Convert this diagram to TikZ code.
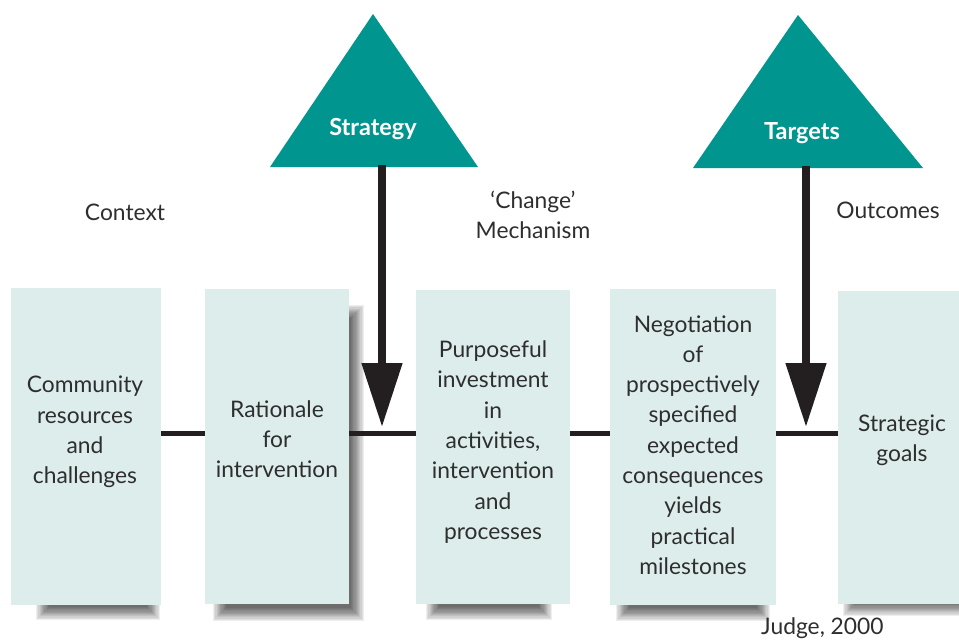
\documentclass[tikz,border=0pt]{standalone}
\usepackage{fontspec}
\setmainfont{Lato}
\usetikzlibrary{arrows.meta}

\definecolor{tealfill}{HTML}{00968F}
\definecolor{cardfill}{HTML}{DDEDEC}
\definecolor{ink}{HTML}{231F20}
\definecolor{txtgray}{HTML}{2E2E2E}

% soft drop shadow built from nested translucent rectangles
\newcommand\softshadow[4]{%
  \foreach \k in {0,...,11}{%
    \fill[black,opacity=0.065] ({#1+1.2*\k},{#2+1.2*\k}) rectangle ({#3-1.2*\k},{#4-1.2*\k});}}

\tikzset{
  card/.style={fill=cardfill, inner sep=0pt, outer sep=0pt, anchor=north west},
  cardtext/.style={align=center, text=txtgray, inner sep=0pt},
  heading/.style={text=txtgray, align=center, inner sep=0pt},
  link/.style={draw=ink, line width=5pt},
  pusharrow/.style={draw=ink, line width=8pt, -{Triangle[length=64pt,width=39pt]}, shorten >=6pt},
  tri/.style={fill=tealfill},
  trilabel/.style={text=white, font=\fontsize{23.5}{27}\selectfont\bfseries, inner sep=0pt}
}

\begin{document}
\begin{tikzpicture}[x=1pt, y=-1pt, font=\fontsize{22.8}{30.3}\selectfont]
  \clip (0,0) rectangle (959,640);
  \fill[white] (0,0) rectangle (959,640);

  % shadows under the cards
  \softshadow{36}{300}{160}{620}
  \softshadow{213}{305}{364}{621}
  \softshadow{426}{300}{552}{620}
  \softshadow{616}{300}{770}{621}
  \softshadow{843}{300}{990}{616}

  % cards
  \node[card, minimum width=150pt, minimum height=317pt] (b1) at (11,288) {};
  \node[card, minimum width=144pt, minimum height=315pt] (b2) at (205,289) {};
  \node[card, minimum width=154pt, minimum height=314pt] (b3) at (416,290) {};
  \node[card, minimum width=166pt, minimum height=316pt] (b4) at (610,289) {};
  \node[card, minimum width=140pt, minimum height=313pt] (b5) at (838,291) {};

  % card texts
  \node[cardtext] (t1) at (85,432) {Community\\resources\\and\\challenges};
  \node[cardtext] (t2) at (277,439) {Rationale\\for\\intervention};
  \node[cardtext] (t3) at (493,442) {Purposeful\\investment\\in\\activities,\\intervention\\and\\processes};
  \node[cardtext] (t4) at (693,445) {Negotiation\\of\\prospectively\\specified\\expected\\consequences\\yields\\practical\\milestones};
  \node[cardtext] (t5) at (902,440) {Strategic\\goals};

  % connectors between the cards
  \coordinate (row) at (0,433);
  \draw[link] (b1.east |- row) -- (b2.west |- row);
  \draw[link] (b2.east |- row) -- (b3.west |- row);
  \draw[link] (b3.east |- row) -- (b4.west |- row);
  \draw[link] (b4.east |- row) -- (b5.west |- row);

  % triangles
  \fill[tri] (373,14) -- (478,167) -- (270,167) -- cycle;
  \node[trilabel] (strat) at (373,129) {Strategy};
  \coordinate (stratfoot) at (382,165);

  \fill[tri] (798,15) -- (923,168) -- (693,168) -- cycle;
  \node[trilabel] (targ) at (802,133) {Targets};
  \coordinate (targfoot) at (806,166);

  % arrows down onto the connectors
  \coordinate (hit1) at (382,433);
  \coordinate (hit2) at (806,433);
  \draw[pusharrow] (stratfoot) -- (hit1);
  \draw[pusharrow] (targfoot) -- (hit2);

  % headings
  \node[heading] (ctx) at (125,212) {Context};
  \node[heading] (chg) at (533,215) {‘Change’\\Mechanism};
  \node[heading] (out) at (888,210) {Outcomes};
  \node[heading, anchor=west] (src) at (761,628) {Judge, 2000};
\end{tikzpicture}
\end{document}
